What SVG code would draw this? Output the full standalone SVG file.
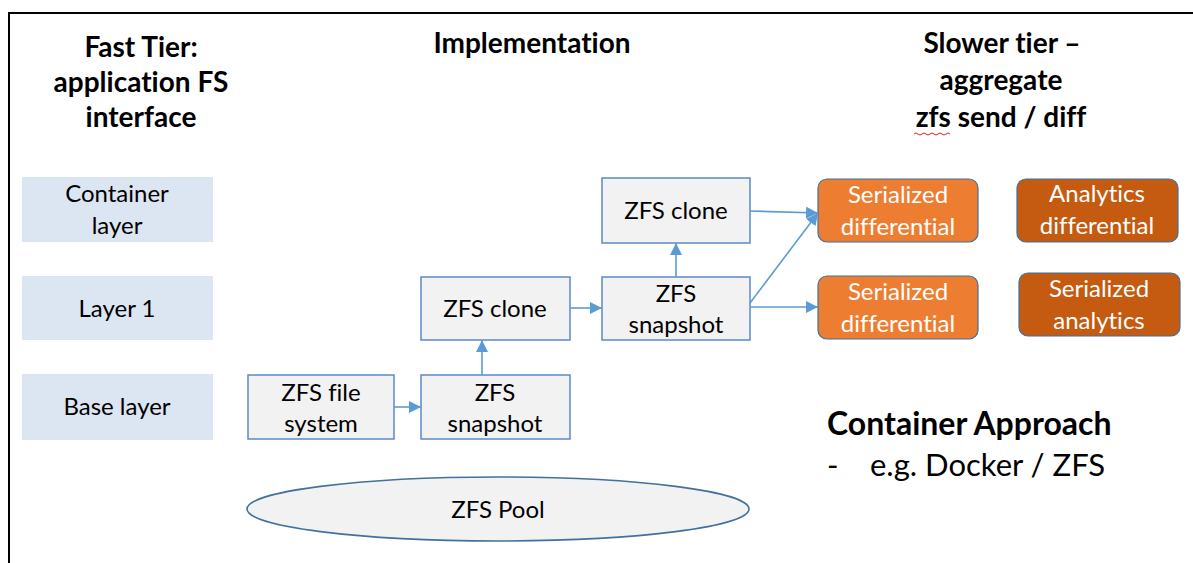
<svg xmlns="http://www.w3.org/2000/svg" width="1193" height="563" viewBox="0 0 1193 563">
<style>
text{font-family:Lato,"Open Sans","Liberation Sans",sans-serif;fill:#000;text-anchor:middle;font-variant-ligatures:none;font-feature-settings:"liga" 0,"dlig" 0}
.h{font-size:28px;font-weight:bold}
.t{font-size:24px}
.w{fill:#fff}
.lay{fill:#dce6f2}
.box{fill:#f2f2f2;stroke:#5b8bc4;stroke-width:1.5}
.or{fill:#ed7d31;stroke:#41719c;stroke-width:1.2}
.dor{fill:#c55a11;stroke:#41719c;stroke-width:1.2}
.c{stroke:#5b9bd5;stroke-width:1.6;fill:none;marker-end:url(#ah)}
</style>
<defs>
<marker id="ah" markerUnits="userSpaceOnUse" markerWidth="12" markerHeight="12" viewBox="0 0 10 10" refX="10" refY="5" orient="auto">
<path d="M0,0 L10,5 L0,10 z" fill="#5b9bd5"/>
</marker>
</defs>
<rect width="1193" height="563" fill="#fff"/>
<path d="M9,563 V13 H1193" fill="none" stroke="#000" stroke-width="2"/>

<g id="headers">
<text class="h" x="141" y="57">Fast Tier:</text>
<text class="h" x="141" y="92">application FS</text>
<text class="h" x="141" y="127">interface</text>
<text class="h" x="532" y="53">Implementation</text>
<text class="h" x="1002" y="53">Slower tier –</text>
<text class="h" x="1001" y="90">aggregate</text>
<text class="h" x="1001" y="127">zfs send / diff</text>
<path d="M914,134 q2,-2 4,0 t4,0 t4,0 t4,0 t4,0 t4,0 t4,0 t4,0 t4,0" fill="none" stroke="#e02020" stroke-width="1"/>
</g>

<g id="container-layer"><rect class="lay" x="22" y="177" width="191" height="65"/><text class="t" x="117" y="202">Container</text><text class="t" x="117" y="234">layer</text></g>
<g id="layer-1"><rect class="lay" x="22" y="276" width="191" height="64"/><text class="t" x="117" y="317">Layer 1</text></g>
<g id="base-layer"><rect class="lay" x="22" y="374" width="191" height="66"/><text class="t" x="117" y="415">Base layer</text></g>

<g id="zfs-file-system"><rect class="box" x="248" y="375" width="146" height="64"/><text class="t" x="321" y="401">ZFS file</text><text class="t" x="321" y="432">system</text></g>
<g id="zfs-snapshot-1"><rect class="box" x="421" y="375" width="149" height="64"/><text class="t" x="495" y="401">ZFS</text><text class="t" x="495" y="432">snapshot</text></g>
<g id="zfs-clone-1"><rect class="box" x="421" y="277" width="149" height="63"/><text class="t" x="495" y="317">ZFS clone</text></g>
<g id="zfs-snapshot-2"><rect class="box" x="602" y="277" width="148" height="63"/><text class="t" x="676" y="302">ZFS</text><text class="t" x="676" y="333">snapshot</text></g>
<g id="zfs-clone-2"><rect class="box" x="602" y="178" width="148" height="65"/><text class="t" x="676" y="219">ZFS clone</text></g>

<g id="serialized-differential-1"><rect class="or" x="818" y="179" width="160" height="63" rx="9"/><text class="t w" x="898" y="203">Serialized</text><text class="t w" x="898" y="235">differential</text></g>
<g id="analytics-differential"><rect class="dor" x="1017" y="179" width="161" height="63" rx="9"/><text class="t w" x="1097" y="202">Analytics</text><text class="t w" x="1097" y="234">differential</text></g>
<g id="serialized-differential-2"><rect class="or" x="818" y="276" width="160" height="63" rx="9"/><text class="t w" x="898" y="300">Serialized</text><text class="t w" x="898" y="332">differential</text></g>
<g id="serialized-analytics"><rect class="dor" x="1019" y="273" width="161" height="63" rx="9"/><text class="t w" x="1099" y="297">Serialized</text><text class="t w" x="1099" y="329">analytics</text></g>

<g id="zfs-pool"><ellipse cx="498" cy="509" rx="251" ry="32" fill="#f2f2f2" stroke="#41719c" stroke-width="1.6"/><text class="t" x="498" y="518">ZFS Pool</text></g>

<g id="container-approach">
<text x="827" y="435" style="font-size:32px;font-weight:bold;text-anchor:start">Container Approach</text>
<text x="827" y="476" style="font-size:31px;text-anchor:start">-</text>
<text x="870" y="476" style="font-size:31px;text-anchor:start">e.g. Docker / ZFS</text>
</g>

<g id="connectors">
<line class="c" x1="394" y1="407" x2="421" y2="407"/>
<line class="c" x1="482" y1="375" x2="482" y2="340"/>
<line class="c" x1="570" y1="308" x2="602" y2="308"/>
<line class="c" x1="676" y1="277" x2="676" y2="243"/>
<line class="c" x1="750" y1="211" x2="818" y2="213"/>
<line class="c" x1="750" y1="303" x2="818" y2="213"/>
<line class="c" x1="750" y1="307" x2="818" y2="307"/>
</g>
</svg>
